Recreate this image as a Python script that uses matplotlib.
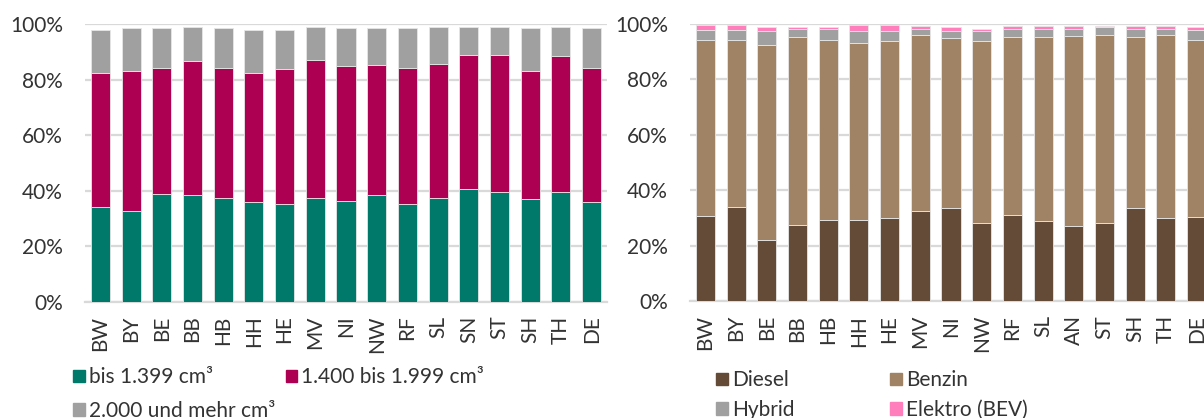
import numpy as np
import matplotlib.pyplot as plt
from matplotlib.patches import Patch

plt.rcParams['font.family'] = ['Lato', 'DejaVu Sans']

# left chart: engine size shares (%)
states_left = ["BW", "BY", "BE", "BB", "HB", "HH", "HE", "MV", "NI", "NW", "RF", "SL", "SN", "ST", "SH", "TH", "DE"]
small = [34.0, 32.7, 38.8, 38.3, 37.3, 36.0, 35.1, 37.3, 36.4, 38.3, 35.1, 37.3, 40.6, 39.6, 36.9, 39.6, 36.0]
medium = [48.4, 50.3, 45.5, 48.3, 47.0, 46.4, 48.7, 49.7, 48.4, 46.8, 49.2, 48.3, 48.2, 49.2, 46.1, 48.8, 48.3]
large = [15.5, 15.4, 14.1, 12.3, 14.1, 15.5, 14.1, 11.9, 13.6, 13.3, 14.1, 13.3, 10.1, 10.1, 15.4, 10.5, 14.1]

# right chart: fuel type shares (%)
states_right = ["BW", "BY", "BE", "BB", "HB", "HH", "HE", "MV", "NI", "NW", "RF", "SL", "AN", "ST", "SH", "TH", "DE"]
diesel = [30.7, 33.9, 22.0, 27.4, 29.4, 29.4, 29.8, 32.6, 33.5, 28.0, 31.2, 28.9, 27.1, 28.0, 33.5, 29.8, 30.3]
benzin = [63.6, 60.4, 70.5, 67.9, 64.9, 63.6, 64.1, 63.5, 61.3, 65.9, 64.1, 66.4, 68.7, 68.1, 61.8, 66.3, 64.0]
hybrid = [3.6, 3.6, 5.0, 2.8, 3.8, 4.5, 3.6, 2.2, 2.7, 3.6, 2.8, 3.0, 2.5, 2.7, 2.8, 2.2, 3.6]
elektro = [1.6, 1.6, 1.3, 0.7, 0.7, 2.0, 2.0, 1.1, 1.3, 0.8, 1.3, 1.1, 1.1, 0.5, 1.3, 1.1, 0.9]

left_labels = ["bis 1.399 cm³", "1.400 bis 1.999 cm³", "2.000 und mehr cm³"]
left_colors = ["#00796B", "#AD0052", "#A0A0A0"]
right_labels = ["Diesel", "Benzin", "Hybrid", "Elektro (BEV)"]
right_colors = ["#634B37", "#A08264", "#A0A0A0", "#FF7EBB"]

FS = 15
GRID = "#D9D9D9"
TXT = "#333333"


def stacked(ax, cats, series, colors):
    x = np.arange(len(cats))
    bottom = np.zeros(len(cats))
    for vals, col in zip(series, colors):
        vals = np.array(vals) / 100
        ax.bar(x, vals, 0.62, bottom=bottom, color=col, edgecolor="#e6e6e6", linewidth=0.6, zorder=3)
        bottom += vals
    ax.set_xlim(-0.5, len(cats) - 0.5)
    ax.set_ylim(0, 1)
    ax.set_yticks(np.arange(0, 1.01, 0.2))
    ax.set_yticklabels([f"{int(round(v*100))}%" for v in np.arange(0, 1.01, 0.2)])
    ax.set_xticks(x)
    ax.set_xticklabels(cats, rotation=90)
    ax.tick_params(axis="both", length=0, labelsize=FS, colors=TXT)
    ax.tick_params(axis="y", pad=16)
    ax.tick_params(axis="x", pad=10)
    ax.grid(axis="y", color=GRID, linewidth=1.6, zorder=0)
    for s in ["top", "right", "left"]:
        ax.spines[s].set_visible(False)
    ax.spines["bottom"].set_color(GRID)
    ax.spines["bottom"].set_linewidth(1.6)


fig = plt.figure(figsize=(12.04, 4.18), dpi=100)
ax1 = fig.add_axes([85 / 1204, 0.2782, 522 / 1204, 0.6644])
ax2 = fig.add_axes([690 / 1204, 0.2799, 522 / 1204, 0.6627])

stacked(ax1, states_left, [small, medium, large], left_colors)
stacked(ax2, states_right, [diesel, benzin, hybrid, elektro], right_colors)

# legends, excel fills row-wise so reorder for matplotlib's column order
h1 = [Patch(color=c) for c in left_colors]
order1 = [0, 2, 1]
fig.legend([h1[i] for i in order1], [left_labels[i] for i in order1],
           loc="upper left", bbox_to_anchor=(63 / 1204, 1 - 357 / 418), ncol=2,
           frameon=False, fontsize=FS, handlelength=0.55, handleheight=0.55,
           handletextpad=0.2, columnspacing=0.5, labelspacing=0.65, borderpad=0,
           labelcolor=TXT)

h2 = [Patch(color=c) for c in right_colors]
order2 = [0, 2, 1, 3]
fig.legend([h2[i] for i in order2], [right_labels[i] for i in order2],
           loc="upper left", bbox_to_anchor=(706 / 1204, 1 - 360 / 418), ncol=2,
           frameon=False, fontsize=FS, handlelength=0.55, handleheight=0.55,
           handletextpad=0.2, columnspacing=4.6, labelspacing=0.45, borderpad=0,
           labelcolor=TXT)

fig.savefig("out.png", dpi=100)
